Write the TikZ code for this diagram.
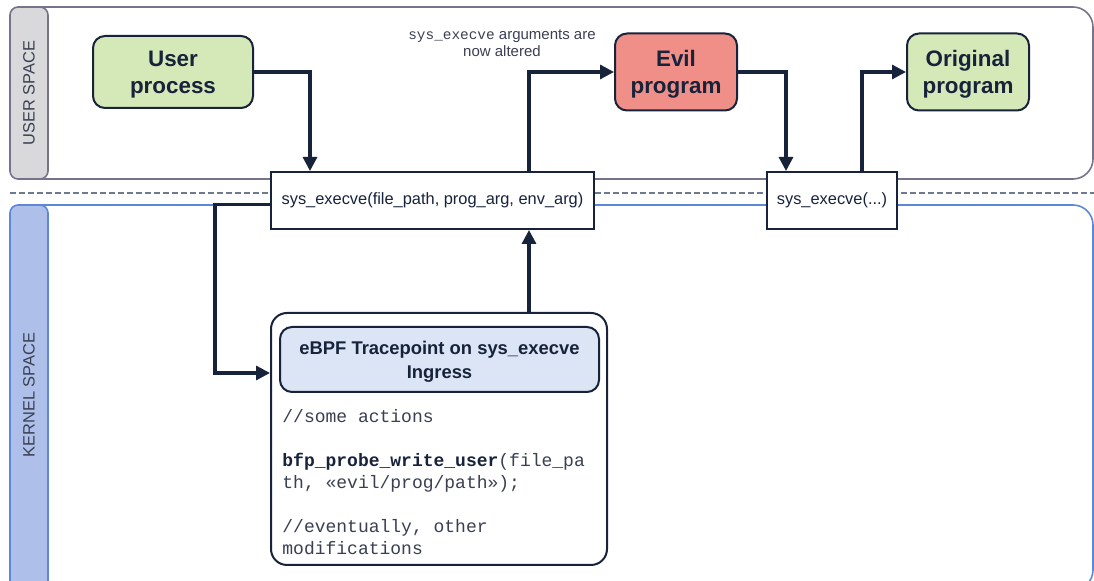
\documentclass[tikz,border=0pt]{standalone}
\usepackage{fontspec}
\setmainfont{Liberation Sans}
\setmonofont{Liberation Mono}
\usetikzlibrary{arrows.meta,positioning}

\definecolor{navy}{HTML}{17223B}
\definecolor{procgreen}{HTML}{D5E8B8}
\definecolor{evilred}{HTML}{EF8F88}
\definecolor{headblue}{HTML}{DCE5F5}
\definecolor{usergray}{HTML}{77738A}
\definecolor{userfill}{HTML}{D9D9DC}
\definecolor{kernblue}{HTML}{5D88D8}
\definecolor{kernfill}{HTML}{AEC0EA}
\definecolor{textgray}{HTML}{3A3F52}
\definecolor{dashgray}{HTML}{6E7A90}

\begin{document}
\begin{tikzpicture}[x=0.5pt, y=-0.5pt,
    proc/.style={draw=navy, line width=1pt, rounded corners=6pt, align=center,
      text=navy, text depth=0pt, font=\fontsize{11.2}{13.5}\selectfont\bfseries},
    call/.style={draw=navy, fill=white, line width=1pt, text=navy,
      minimum height=28.5pt, font=\fontsize{8.2}{10}\selectfont},
    flow/.style={draw=navy, line width=1.6pt, -{Triangle[length=7pt,width=7pt]}},
    band/.style={text=textgray, rotate=90, font=\fontsize{8.2}{10}\selectfont},
    code/.style={align=left, inner sep=0pt, text=textgray,
      font=\ttfamily\fontsize{9}{11}\selectfont}]
    \useasboundingbox (0,0) rectangle (1094,581);

    % Spaces
    \draw[usergray, line width=0.8pt, rounded corners=10pt]
      (30,7) -- (1093,7) -- (1093,179) -- (30,179);
    \draw[kernblue, line width=0.8pt, rounded corners=10pt]
      (30,205) -- (1093,205) -- (1093,590) -- (30,590);
    \draw[dashgray, line width=0.6pt, dash pattern=on 3pt off 1.5pt]
      (10,193) -- (1094,193);
    \draw[usergray, fill=userfill, line width=0.8pt, rounded corners=4pt]
      (10,7) rectangle (48,179);
    \draw[kernblue, fill=kernfill, line width=0.8pt, rounded corners=4pt]
      (10,205) rectangle (48,600);
    \node[band] (uspace) at (29,93) {USER SPACE};
    \node[band] (kspace) at (29,395) {KERNEL SPACE};

    % Nodes
    \node[proc, fill=procgreen, minimum width=80pt, minimum height=36pt]
      (user) at (173,72) {User\\process};
    \node[proc, fill=evilred, minimum width=61pt, minimum height=38.5pt]
      (evil) at (676,72) {Evil\\program};
    \node[proc, fill=procgreen, minimum width=61pt, minimum height=38.5pt]
      (orig) at (968,72) {Original\\program};
    \node[call, minimum width=161.5pt] (sysA) at (432.5,200.5)
      {sys\_execve(file\_path, prog\_arg, env\_arg)};
    \node[call, minimum width=65pt] (sysB) at (832,200.5) {sys\_execve(...)};
    \node[align=center, text=textgray, font=\fontsize{7.5}{8.5}\selectfont]
      (altered) at (502,43)
      {{\ttfamily\fontsize{7.2}{8.5}\selectfont sys\_execve} arguments are\\now altered};

    % eBPF program
    \node[draw=navy, fill=white, line width=1pt, rounded corners=8pt,
      minimum width=168pt, minimum height=126pt] (ebpf) at (439,439) {};
    \node[proc, fill=headblue, minimum width=159.5pt, minimum height=32.5pt,
      font=\fontsize{9.2}{12}\selectfont\bfseries] (tp) at (439.5,359.5)
      {eBPF Tracepoint on sys\_execve\\Ingress};
    \node[code, anchor=north west] (body) at (282,409)
      {//some actions\\[11pt]
       \textbf{\color{navy}bfp\_probe\_write\_user}(file\_pa\\
       th, «evil/prog/path»);\\[11pt]
       //eventually, other\\
       modifications};

    % Arrows
    \draw[flow] (user.east) -| ([xshift=20pt]sysA.north west);
    \draw[flow] ([xshift=129.5pt]sysA.north west) |- (evil.west);
    \draw[flow] (evil.east) -| ([xshift=10pt]sysB.north west);
    \draw[flow] ([xshift=48pt]sysB.north west) |- (orig.west);
    \draw[flow] ([yshift=-2pt]sysA.west) -- ++(-27.5pt,0) |- ([yshift=33pt]ebpf.west);
    \draw[flow] ([xshift=129.5pt]ebpf.north west) -- ([xshift=129.5pt]sysA.south west);
\end{tikzpicture}
\end{document}
